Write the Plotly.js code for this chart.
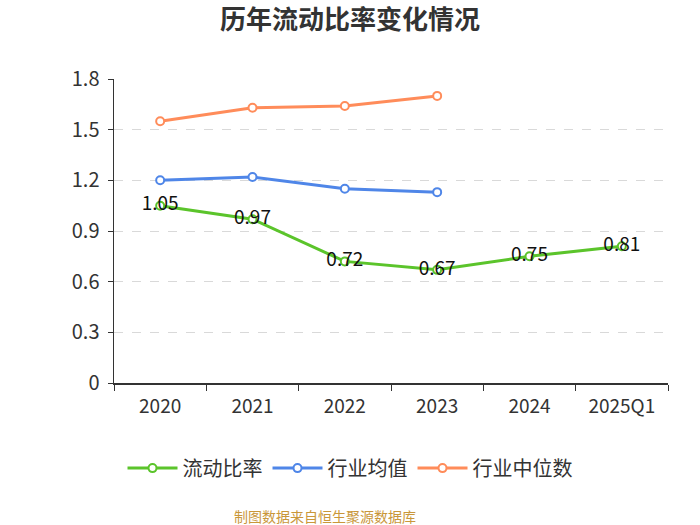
<!DOCTYPE html>
<html><head><meta charset="utf-8">
<script src="https://cdn.plot.ly/plotly-3.0.1.min.js"></script>
<style>body{margin:0;background:#fff}#c{width:700px;height:525px}</style>
</head><body><div id="c"></div>
<script>
var categories = ["2020","2021","2022","2023","2024","2025Q1"];
var currentRatio = [1.05,0.97,0.72,0.67,0.75,0.81];
var industryMean = [1.20,1.22,1.15,1.13];
var industryMedian = [1.55,1.63,1.64,1.70];
var yTicks = [0,0.3,0.6,0.9,1.2,1.5,1.8];
var yTickText = ["0","0.3","0.6","0.9","1.2","1.5","1.8"];

var font = "Noto Sans CJK SC, Noto Sans, sans-serif";
function mk(name, y, color, withText){
  var t = {
    type:"scatter", name:name, x:categories.slice(0,y.length), y:y,
    mode: withText ? "lines+markers+text" : "lines+markers",
    line:{color:color,width:3},
    marker:{symbol:"circle",size:8,color:"#fff",line:{color:color,width:2}},
    hoverinfo:"x+y"
  };
  if(withText){
    t.text = y.map(function(v){return v.toFixed(2);});
    t.textposition = "middle center";
    t.textfont = {family:font,size:19,color:"#111"};
  }
  return t;
}
var data = [
  mk("流动比率", currentRatio, "#5BC42B", true),
  mk("行业均值", industryMean, "#4F86E8", false),
  mk("行业中位数", industryMedian, "#FF8C5A", false)
];
var layout = {
  width:700, height:525,
  margin:{l:114,r:32,t:79,b:142,autoexpand:false},
  paper_bgcolor:"#fff", plot_bgcolor:"#fff",
  font:{family:font,color:"#333"},
  title:{text:"<b>历年流动比率变化情况</b>",font:{family:font,size:26,color:"#333"},x:0.5,xanchor:"center",y:0.962,yanchor:"middle"},
  xaxis:{type:"category",range:[-0.5,5.5],tickson:"boundaries",ticks:"outside",ticklen:6,tickcolor:"#333",tickangle:0,ticklabelstandoff:6,
    showline:true,linecolor:"#333",linewidth:1.5,showgrid:false,tickfont:{family:font,size:19,color:"#333"},fixedrange:true},
  yaxis:{range:[0,1.8],tickvals:yTicks,ticktext:yTickText,ticks:"outside",ticklen:5,tickcolor:"#333",ticklabelstandoff:4,
    showline:true,linecolor:"#333",linewidth:1.5,showgrid:true,gridcolor:"#d9d9d9",griddash:"dash",gridwidth:1,
    zeroline:false,tickfont:{family:font,size:20,color:"#333"},fixedrange:true},
  showlegend:true,
  legend:{orientation:"h",x:0.426,xanchor:"center",y:-0.28,yanchor:"middle",font:{family:font,size:20,color:"#333"},itemwidth:50},
  annotations:[{text:"制图数据来自恒生聚源数据库",xref:"paper",yref:"paper",x:0.381,y:-0.4375,xanchor:"center",yanchor:"middle",showarrow:false,
    font:{family:font,size:14,color:"#C9973A"}}]
};
Plotly.newPlot("c",data,layout,{displayModeBar:false,staticPlot:true});
</script></body></html>
